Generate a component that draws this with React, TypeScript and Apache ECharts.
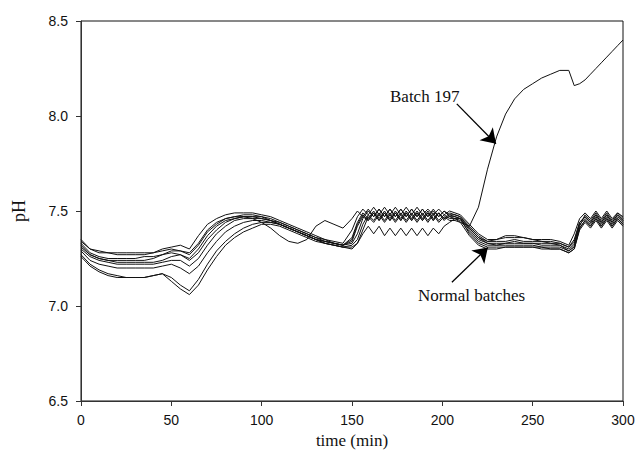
import React, { useEffect, useRef } from "react";
import * as echarts from "echarts";

const times = [
  0, 5, 10, 15, 20, 25, 30, 35, 40, 45, 50, 55, 60, 65, 70, 75, 80, 85, 90, 95, 100, 105, 110, 115, 120, 125, 130, 135, 140, 145, 150,
  153, 156, 159, 162, 165, 168, 171, 174, 177, 180, 183, 186, 189, 192, 195, 198, 201, 204, 207, 210,
  215, 220, 225, 230, 235, 240, 245, 250, 255, 260, 265, 270,
  273, 276, 279, 282, 285, 288, 291, 294, 297, 300,
];

const batchN1 = [
  7.35, 7.30, 7.28, 7.28, 7.28, 7.28, 7.28, 7.28, 7.28, 7.30, 7.31, 7.32, 7.30, 7.37, 7.43, 7.46, 7.48, 7.49, 7.49, 7.49, 7.48, 7.47, 7.45, 7.43, 7.41, 7.39, 7.37, 7.35, 7.34, 7.33, 7.40,
  7.47, 7.51, 7.48, 7.52, 7.48, 7.52, 7.48, 7.52, 7.48, 7.52, 7.48, 7.52, 7.48, 7.51, 7.48, 7.51, 7.48, 7.50, 7.49, 7.48,
  7.43, 7.38, 7.35, 7.35, 7.36, 7.36, 7.36, 7.35, 7.35, 7.35, 7.34, 7.32,
  7.38, 7.46, 7.49, 7.46, 7.50, 7.46, 7.50, 7.46, 7.49, 7.47,
];
const batchN2 = [
  7.34, 7.30, 7.29, 7.28, 7.27, 7.27, 7.27, 7.27, 7.28, 7.29, 7.30, 7.29, 7.27, 7.32, 7.39, 7.43, 7.46, 7.47, 7.48, 7.48, 7.47, 7.46, 7.44, 7.42, 7.40, 7.38, 7.36, 7.34, 7.33, 7.32, 7.36,
  7.44, 7.49, 7.46, 7.50, 7.46, 7.50, 7.46, 7.50, 7.46, 7.50, 7.46, 7.50, 7.46, 7.50, 7.46, 7.49, 7.46, 7.49, 7.48, 7.47,
  7.42, 7.37, 7.34, 7.34, 7.34, 7.35, 7.34, 7.34, 7.34, 7.33, 7.33, 7.31,
  7.35, 7.44, 7.47, 7.44, 7.48, 7.44, 7.48, 7.44, 7.48, 7.45,
];
const batchN3 = [
  7.32, 7.27, 7.25, 7.24, 7.23, 7.23, 7.23, 7.23, 7.23, 7.24, 7.26, 7.27, 7.24, 7.28, 7.35, 7.40, 7.44, 7.46, 7.47, 7.47, 7.47, 7.45, 7.44, 7.42, 7.40, 7.38, 7.36, 7.35, 7.33, 7.32, 7.34,
  7.42, 7.47, 7.45, 7.49, 7.45, 7.49, 7.45, 7.49, 7.45, 7.49, 7.45, 7.49, 7.45, 7.49, 7.45, 7.49, 7.45, 7.48, 7.47, 7.46,
  7.41, 7.36, 7.33, 7.33, 7.33, 7.34, 7.33, 7.33, 7.33, 7.33, 7.32, 7.30,
  7.33, 7.43, 7.46, 7.43, 7.47, 7.43, 7.47, 7.43, 7.47, 7.44,
];
const batchN4 = [
  7.30, 7.26, 7.24, 7.23, 7.22, 7.22, 7.22, 7.22, 7.22, 7.23, 7.24, 7.24, 7.21, 7.25, 7.32, 7.38, 7.42, 7.45, 7.46, 7.46, 7.46, 7.45, 7.43, 7.41, 7.39, 7.37, 7.35, 7.34, 7.33, 7.32, 7.33,
  7.38, 7.46, 7.50, 7.47, 7.51, 7.47, 7.51, 7.47, 7.51, 7.47, 7.51, 7.47, 7.51, 7.47, 7.51, 7.47, 7.50, 7.47, 7.47, 7.46,
  7.40, 7.35, 7.33, 7.32, 7.33, 7.33, 7.33, 7.33, 7.32, 7.32, 7.32, 7.29,
  7.32, 7.42, 7.48, 7.45, 7.49, 7.45, 7.49, 7.45, 7.49, 7.46,
];
const batchN5 = [
  7.29, 7.24, 7.22, 7.21, 7.20, 7.20, 7.20, 7.20, 7.20, 7.21, 7.22, 7.20, 7.17, 7.21, 7.28, 7.34, 7.39, 7.42, 7.44, 7.45, 7.45, 7.44, 7.43, 7.41, 7.39, 7.37, 7.35, 7.33, 7.32, 7.31, 7.32,
  7.35, 7.43, 7.48, 7.45, 7.49, 7.45, 7.49, 7.45, 7.49, 7.45, 7.49, 7.45, 7.49, 7.45, 7.49, 7.45, 7.48, 7.46, 7.46, 7.45,
  7.39, 7.34, 7.32, 7.32, 7.32, 7.32, 7.32, 7.32, 7.31, 7.31, 7.31, 7.29,
  7.31, 7.41, 7.45, 7.42, 7.46, 7.42, 7.46, 7.42, 7.46, 7.43,
];
const batchN6 = [
  7.27, 7.22, 7.19, 7.17, 7.16, 7.15, 7.15, 7.15, 7.16, 7.17, 7.15, 7.11, 7.08, 7.14, 7.22, 7.29, 7.34, 7.38, 7.41, 7.43, 7.44, 7.44, 7.43, 7.41, 7.39, 7.37, 7.35, 7.33, 7.32, 7.31, 7.31,
  7.33, 7.40, 7.47, 7.44, 7.48, 7.44, 7.48, 7.44, 7.48, 7.44, 7.48, 7.44, 7.48, 7.44, 7.48, 7.44, 7.47, 7.45, 7.45, 7.44,
  7.37, 7.32, 7.30, 7.30, 7.31, 7.31, 7.31, 7.31, 7.30, 7.30, 7.30, 7.28,
  7.30, 7.40, 7.44, 7.41, 7.45, 7.41, 7.45, 7.41, 7.45, 7.42,
];
const batchN7 = [
  7.26, 7.21, 7.18, 7.16, 7.15, 7.15, 7.15, 7.15, 7.16, 7.17, 7.13, 7.09, 7.06, 7.11, 7.19, 7.26, 7.32, 7.36, 7.39, 7.41, 7.43, 7.43, 7.42, 7.40, 7.38, 7.36, 7.34, 7.33, 7.32, 7.31, 7.30,
  7.33, 7.38, 7.42, 7.38, 7.42, 7.37, 7.41, 7.37, 7.41, 7.37, 7.41, 7.37, 7.41, 7.37, 7.41, 7.38, 7.42, 7.44, 7.46, 7.46,
  7.38, 7.33, 7.31, 7.31, 7.31, 7.31, 7.31, 7.31, 7.31, 7.30, 7.30, 7.28,
  7.30, 7.41, 7.45, 7.42, 7.46, 7.42, 7.46, 7.42, 7.46, 7.43,
];
const batchN8 = [
  7.31, 7.27, 7.25, 7.24, 7.24, 7.24, 7.24, 7.24, 7.25, 7.27, 7.29, 7.29, 7.28, 7.33, 7.40, 7.44, 7.46, 7.47, 7.47, 7.46, 7.44, 7.41, 7.37, 7.34, 7.33, 7.35, 7.42, 7.45, 7.43, 7.41, 7.46,
  7.50, 7.47, 7.51, 7.47, 7.51, 7.47, 7.51, 7.47, 7.51, 7.47, 7.51, 7.47, 7.51, 7.47, 7.50, 7.47, 7.50, 7.48, 7.48, 7.47,
  7.41, 7.36, 7.34, 7.35, 7.37, 7.37, 7.36, 7.35, 7.34, 7.34, 7.33, 7.31,
  7.34, 7.44, 7.47, 7.44, 7.48, 7.44, 7.48, 7.44, 7.48, 7.45,
];
const batch197 = [
  7.33, 7.28, 7.26, 7.25, 7.25, 7.25, 7.25, 7.26, 7.26, 7.27, 7.28, 7.27, 7.25, 7.30, 7.37, 7.42, 7.45, 7.46, 7.47, 7.47, 7.46, 7.45, 7.43, 7.41, 7.39, 7.37, 7.35, 7.34, 7.33, 7.32, 7.35,
  7.43, 7.48, 7.45, 7.49, 7.45, 7.49, 7.45, 7.49, 7.45, 7.49, 7.45, 7.49, 7.45, 7.49, 7.45, 7.49, 7.46, 7.47, 7.46, 7.44,
  7.42, 7.52, 7.72, 7.89, 8.01, 8.09, 8.14, 8.17, 8.20, 8.22, 8.24, 8.24,
  8.16, 8.17, 8.19, 8.22, 8.25, 8.28, 8.31, 8.34, 8.37, 8.40,
];

const normalBatches = [batchN1, batchN2, batchN3, batchN4, batchN5, batchN6, batchN7, batchN8];

const xTicks = [0, 50, 100, 150, 200, 250, 300];
const yTicks = [6.5, 7.0, 7.5, 8.0, 8.5];

// annotation arrows in data coordinates: [from, to]
const batchArrow = [[208, 8.064], [229.7, 7.854]];
const normalArrow = [[205.3, 7.125], [225.2, 7.308]];

export default function App() {
  const ref = useRef<HTMLDivElement>(null);
  useEffect(() => {
    if (!ref.current) return;
    const chart = echarts.init(ref.current, null, { renderer: "svg" });
    const mkData = (vals: number[]) => times.map((t, i) => [t, vals[i]]);
    const lineStyle = { color: "#111", width: 1 };
    const series: any[] = normalBatches.map((vals, k) => ({
      name: "N" + (k + 1),
      type: "line",
      data: mkData(vals),
      showSymbol: false,
      symbol: "none",
      lineStyle,
      silent: true,
    }));
    series.push({
      name: "Batch 197",
      type: "line",
      data: mkData(batch197),
      showSymbol: false,
      symbol: "none",
      lineStyle,
      silent: true,
      markLine: {
        silent: true,
        symbol: ["none", "arrow"],
        symbolSize: 14,
        label: { show: false },
        lineStyle: { color: "#000", width: 1.3, type: "solid" },
        itemStyle: { color: "#000" },
        data: [
          [{ coord: batchArrow[0] }, { coord: batchArrow[1] }],
          [{ coord: normalArrow[0] }, { coord: normalArrow[1] }],
        ],
      },
    });
    chart.setOption({
      animation: false,
      backgroundColor: "#fff",
      grid: {
        left: 81,
        right: 15,
        top: 21,
        bottom: 56,
        show: true,
        borderColor: "#111",
        borderWidth: 1,
      },
      xAxis: {
        type: "value",
        min: 0,
        max: 300,
        interval: 50,
        name: "time (min)",
        nameLocation: "middle",
        nameGap: 26,
        nameTextStyle: { fontFamily: "Liberation Serif", fontSize: 17, color: "#111" },
        axisLine: { show: true, lineStyle: { color: "#333", width: 1 } },
        axisTick: { show: true, inside: false, length: 5, lineStyle: { color: "#333" } },
        axisLabel: {
          fontFamily: "Liberation Sans",
          fontSize: 14,
          color: "#111",
          margin: 12,
          customValues: xTicks,
        },
        splitLine: { show: false },
      },
      yAxis: {
        type: "value",
        min: 6.5,
        max: 8.5,
        interval: 0.5,
        name: "pH",
        nameLocation: "middle",
        nameGap: 53,
        nameTextStyle: { fontFamily: "Liberation Serif", fontSize: 18, color: "#111" },
        axisLine: { show: true, lineStyle: { color: "#333", width: 1 } },
        axisTick: { show: true, inside: false, length: 5, lineStyle: { color: "#333" } },
        axisLabel: {
          fontFamily: "Liberation Sans",
          fontSize: 14,
          color: "#111",
          margin: 13,
          formatter: (v: number) => (yTicks.includes(v) ? v.toFixed(1) : ""),
        },
        splitLine: { show: false },
      },
      graphic: [
        {
          type: "text",
          left: 390,
          top: 88,
          style: { text: "Batch 197", fontFamily: "Liberation Serif", fontSize: 17, fill: "#111" },
          silent: true,
        },
        {
          type: "text",
          left: 418,
          top: 287,
          style: { text: "Normal batches", fontFamily: "Liberation Serif", fontSize: 17, fill: "#111" },
          silent: true,
        },
      ],
      series,
    });
    return () => chart.dispose();
  }, []);
  return (
    <div
      ref={ref}
      style={{ position: "fixed", left: 0, top: 0, width: 638, height: 457, background: "#fff" }}
    />
  );
}
